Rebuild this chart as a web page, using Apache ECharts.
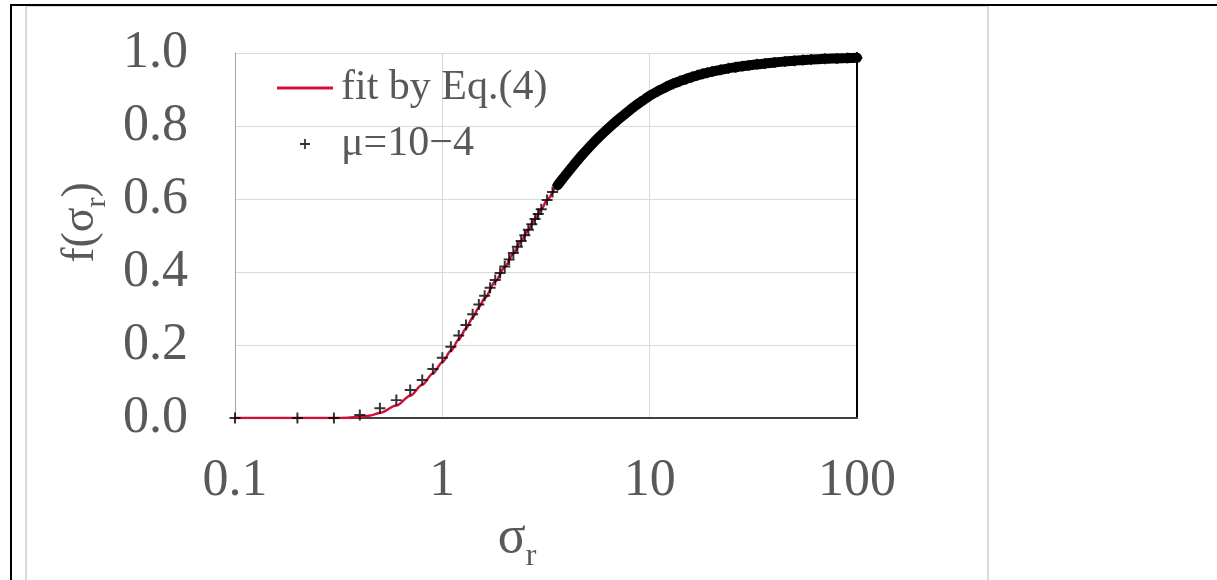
<!DOCTYPE html>
<html><head><meta charset="utf-8">
<script src="https://cdn.jsdelivr.net/npm/echarts@6/dist/echarts.min.js"></script>
<style>html,body{margin:0;padding:0;background:#fff;}#c{width:1217px;height:580px;}</style>
</head><body><div id="c"></div>
<script>
// measured points (sigma_r, f)
const sigma = [0.1,0.2,0.3,0.4,0.5,0.6,0.7,0.8,0.9,1.0,1.1,1.2,1.3,1.4,1.5,1.6,1.7,1.8,1.9,2.0,2.1,2.2,2.3,2.4,2.5,2.6,2.7,2.8,2.9,3.0,
  3.2,3.4,3.6,3.8,4.0,4.2,4.4,4.6,4.8,5.0,5.5,6.0,6.5,7.0,7.5,8.0,8.5,9.0,9.5,10,
  11,12,13,14,15,16,17,18,19,20,22,24,26,28,30,33,36,40,45,50,55,60,70,80,90,100];
const fData = [0,0,0,0.008,0.027,0.049,0.077,0.104,0.134,0.165,0.195,0.226,0.255,0.284,0.311,0.335,0.357,0.378,0.397,0.415,0.434,0.452,0.469,0.485,0.501,0.516,0.531,0.545,0.559,0.572,
  0.597,0.619,0.638,0.655,0.671,0.686,0.700,0.713,0.725,0.736,0.761,0.782,0.800,0.816,0.830,0.843,0.855,0.865,0.874,0.883,
  0.896,0.907,0.916,0.923,0.929,0.934,0.939,0.943,0.946,0.949,0.954,0.958,0.961,0.964,0.966,0.969,0.971,0.974,0.977,0.979,0.981,0.982,0.984,0.985,0.986,0.987];
// fit curve (Eq. 4)
const fitSigma = [0.1,0.2,0.3,0.35,0.4,0.45,0.5,0.6,0.7,0.8,0.9,1.0,1.1,1.2,1.3,1.4,1.5,1.6,1.8,2.0,2.2,2.4,2.6,2.8,3.0,3.2,3.6,4.0,5,6,8,10,15,20,30,50,100];
const fitValues = [0,0,0,0.0005,0.003,0.007,0.014,0.034,0.061,0.091,0.122,0.153,0.184,0.215,0.245,0.275,0.303,0.328,0.374,0.414,0.451,0.485,0.516,0.545,0.572,0.597,0.638,0.671,0.736,0.782,0.843,0.883,0.929,0.949,0.966,0.979,0.987];
const xTickLabels = ['0.1','1','10','100'];
const yTickLabels = ['0.0','0.2','0.4','0.6','0.8','1.0'];
const seriesNames = ['fit by Eq.(4)', 'μ=10−4'];
const bandFrom = 3.5; // where overlapping markers merge into a solid band

const FONT = 'Liberation Serif';
const GRAY = '#595959';
const RED = '#d0103a';
const plus = 'path://M4.1,0 h1.8 v10 h-1.8 z M0,4.1 h10 v1.8 h-10 z';
const lineIcon = 'path://M0,0 h56 v3 h-56 z';

const pts = sigma.map((s, i) => [s, fData[i]]);
const bandPts = pts.filter(p => p[0] >= bandFrom);
const fitPts = fitSigma.map((s, i) => [s, fitValues[i]]);

const chart = echarts.init(document.getElementById('c'), null, {renderer: 'canvas'});
chart.setOption({
  animation: false,
  backgroundColor: '#fff',
  graphic: [
    {type: 'rect', shape: {x: 26, y: 6, width: 962, height: 580}, style: {fill: '#fff', stroke: '#d9d9d9', lineWidth: 2}, z: -10},
    {type: 'line', shape: {x1: 10, y1: 5, x2: 1217, y2: 5}, style: {stroke: '#000', lineWidth: 2}, z: -5},
    {type: 'line', shape: {x1: 11, y1: 4, x2: 11, y2: 580}, style: {stroke: '#000', lineWidth: 2}, z: -5}
  ],
  grid: {left: 235, top: 53, width: 622, height: 365, containLabel: false},
  legend: {
    data: [{name: seriesNames[0], icon: lineIcon}, {name: seriesNames[1]}],
    orient: 'vertical', left: 272, top: 62,
    itemWidth: 56, itemHeight: 10, itemGap: 14,
    textStyle: {fontFamily: FONT, fontSize: 42, lineHeight: 41, color: GRAY, padding: [0, 0, 0, 3]}
  },
  xAxis: [
    {type: 'log', logBase: 10, min: 0.1, max: 100, position: 'bottom',
     axisLine: {show: true, lineStyle: {color: '#bfbfbf', width: 1}},
     axisTick: {show: false}, minorTick: {show: false},
     splitLine: {show: true, lineStyle: {color: '#d9d9d9', width: 1}},
     axisLabel: {margin: 37, fontFamily: FONT, fontSize: 52, color: GRAY,
       formatter: v => xTickLabels[Math.round(Math.log10(v)) + 1]},
     name: '{a|σ}{b|r}', nameLocation: 'middle', nameGap: 81,
     nameTextStyle: {padding: [0, 58, 0, 0], rich: {
       a: {fontFamily: FONT, fontSize: 52, lineHeight: 52, color: GRAY, verticalAlign: 'bottom', padding: [0, 0, 9, 0]},
       b: {fontFamily: FONT, fontSize: 32, lineHeight: 32, color: GRAY, verticalAlign: 'bottom'}}}
    },
    {type: 'log', logBase: 10, min: 0.1, max: 100, position: 'top',
     axisLine: {show: true, lineStyle: {color: '#404040', width: 2}},
     axisTick: {show: false}, axisLabel: {show: false}, splitLine: {show: false}}
  ],
  yAxis: [
    {type: 'value', min: 0, max: 1, interval: 0.2, position: 'left',
     axisLine: {show: true, lineStyle: {color: '#a6a6a6', width: 1}},
     axisTick: {show: false},
     splitLine: {show: true, lineStyle: {color: '#d9d9d9', width: 1}},
     axisLabel: {margin: 47, fontFamily: FONT, fontSize: 52, color: GRAY,
       formatter: v => yTickLabels[Math.round(v / 0.2)]},
     name: '{a|f(σ}{b|r}{a|)}', nameLocation: 'middle', nameGap: 100, nameRotate: 90,
     nameTextStyle: {padding: [0, 0, 0, 26], rich: {
       a: {fontFamily: FONT, fontSize: 46, lineHeight: 46, color: GRAY, verticalAlign: 'bottom', padding: [0, 0, 8, 0]},
       b: {fontFamily: FONT, fontSize: 30, lineHeight: 30, color: GRAY, verticalAlign: 'bottom'}}}
    },
    {type: 'value', min: 0, max: 1, interval: 0.2, position: 'right',
     axisLine: {show: true, lineStyle: {color: '#000', width: 2}},
     axisTick: {show: false}, axisLabel: {show: false}, splitLine: {show: false}}
  ],
  series: [
    {name: seriesNames[0], type: 'line', xAxisIndex: 0, yAxisIndex: 0, data: fitPts,
     symbol: 'none', smooth: 0.3, smoothMonotone: 'x',
     lineStyle: {color: RED, width: 2.5}, itemStyle: {color: RED}, z: 2},
    {type: 'line', xAxisIndex: 0, yAxisIndex: 0, data: bandPts, symbol: 'none', silent: true,
     smooth: 0.3, lineStyle: {color: '#000', width: 10, cap: 'round'}, z: 3},
    {name: seriesNames[1], type: 'scatter', xAxisIndex: 0, yAxisIndex: 0, data: pts,
     symbol: plus, symbolSize: 11, itemStyle: {color: '#000'}, z: 4}
  ]
});
</script>
</body></html>
